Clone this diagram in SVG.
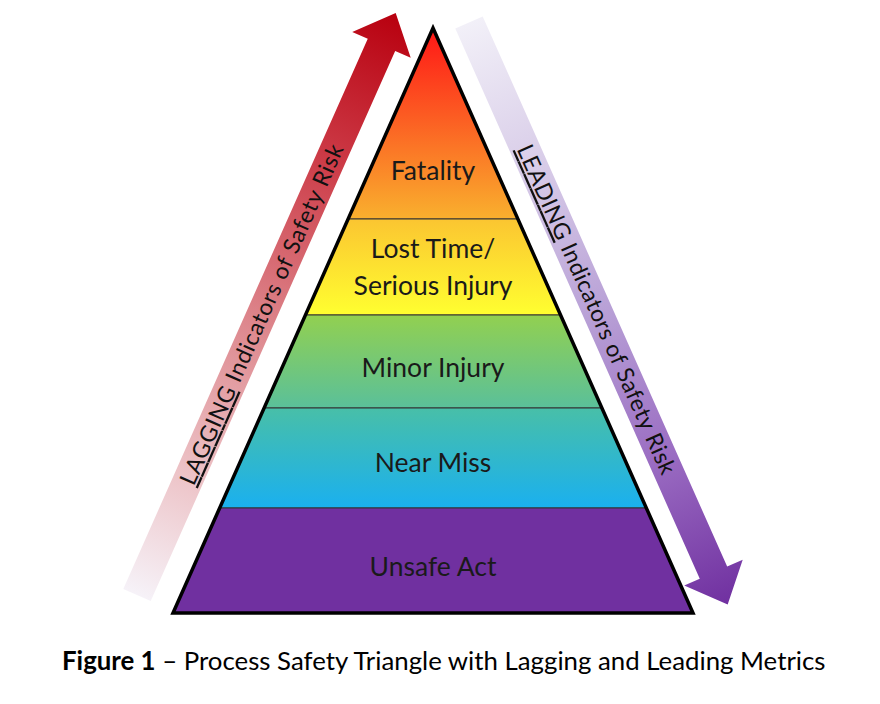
<svg xmlns="http://www.w3.org/2000/svg" width="880" height="704" viewBox="0 0 880 704">
<defs>
<style>
.lbl{font-family:Lato,"Open Sans","DejaVu Sans",sans-serif;font-size:26.5px;fill:#1a1a1a;text-anchor:middle}
.arr{font-family:Lato,"Open Sans","DejaVu Sans",sans-serif;font-size:23px;fill:#111}
.band{stroke:#333;stroke-width:1}
.cap{font-family:Lato,"Open Sans","DejaVu Sans",sans-serif;font-size:25.8px;fill:#000}
</style>
<linearGradient id="g1" x1="0" y1="0" x2="0" y2="1"><stop offset="0" stop-color="#ff1616"/><stop offset="0.45" stop-color="#fc5a22"/><stop offset="1" stop-color="#f9b02e"/></linearGradient>
<linearGradient id="g2" x1="0" y1="0" x2="0" y2="1"><stop offset="0" stop-color="#fbc531"/><stop offset="1" stop-color="#ffff30"/></linearGradient>
<linearGradient id="g3" x1="0" y1="0" x2="0" y2="1"><stop offset="0" stop-color="#92d050"/><stop offset="1" stop-color="#5ac09a"/></linearGradient>
<linearGradient id="g4" x1="0" y1="0" x2="0" y2="1"><stop offset="0" stop-color="#48bfa8"/><stop offset="1" stop-color="#1ab0ef"/></linearGradient>
<linearGradient id="gLag" gradientUnits="userSpaceOnUse" x1="0" y1="0" x2="637" y2="0"><stop offset="0" stop-color="#f6f2f8"/><stop offset="0.2" stop-color="#edc4c8"/><stop offset="0.45" stop-color="#de8a90"/><stop offset="0.75" stop-color="#cc3a46"/><stop offset="1" stop-color="#b8000f"/></linearGradient>
<linearGradient id="gLead" gradientUnits="userSpaceOnUse" x1="0" y1="0" x2="637" y2="0"><stop offset="0" stop-color="#f2f0f8"/><stop offset="0.25" stop-color="#d8cce8"/><stop offset="0.5" stop-color="#b8a0d6"/><stop offset="0.75" stop-color="#9a6cc2"/><stop offset="1" stop-color="#7030a0"/></linearGradient>
</defs>
<rect width="880" height="704" fill="#fff"/>
<g id="connectors">
<g id="lagging-arrow" transform="translate(137,595) rotate(-66.04)">
<path d="M0,-15 L602,-15 L602,-32 L637,0 L602,32 L602,15 L0,15 Z" fill="url(#gLag)"/>
<text class="arr" x="122" y="8" textLength="370" lengthAdjust="spacing"><tspan text-decoration="underline">LAGGING</tspan>  Indicators of Safety Risk</text>
</g>
<g id="leading-arrow" transform="translate(469,22.5) rotate(66.04)">
<path d="M0,-15 L602,-15 L602,-32 L637,0 L602,32 L602,15 L0,15 Z" fill="url(#gLead)"/>
<text class="arr" x="135" y="8" textLength="358" lengthAdjust="spacing"><tspan text-decoration="underline">LEADING</tspan>  Indicators of Safety Risk</text>
</g>
</g>
<g id="fatality"><polygon class="band" points="433,28 517.9,219 348.1,219" fill="url(#g1)"/><text class="lbl" x="433" y="180">Fatality</text></g>
<g id="lost-time"><polygon class="band" points="348.1,219 517.9,219 560.5,315 305.5,315" fill="url(#g2)"/><text class="lbl" x="433" y="258">Lost Time/</text><text class="lbl" x="433" y="295">Serious Injury</text></g>
<g id="minor-injury"><polygon class="band" points="305.5,315 560.5,315 601.9,408 264.1,408" fill="url(#g3)"/><text class="lbl" x="433" y="377">Minor Injury</text></g>
<g id="near-miss"><polygon class="band" points="264.1,408 601.9,408 646.3,508 219.7,508" fill="url(#g4)"/><text class="lbl" x="433" y="472">Near Miss</text></g>
<g id="unsafe-act"><polygon class="band" points="219.7,508 646.3,508 693,613 173,613" fill="#7030a0"/><text class="lbl" x="433" y="576">Unsafe Act</text></g>
<polygon id="outline" points="433,28 693,613 173,613" fill="none" stroke="#000" stroke-width="3.5" stroke-linejoin="miter"/>
<text class="cap" x="62" y="670"><tspan font-weight="bold">Figure 1</tspan> – Process Safety Triangle with Lagging and Leading Metrics</text>
</svg>
